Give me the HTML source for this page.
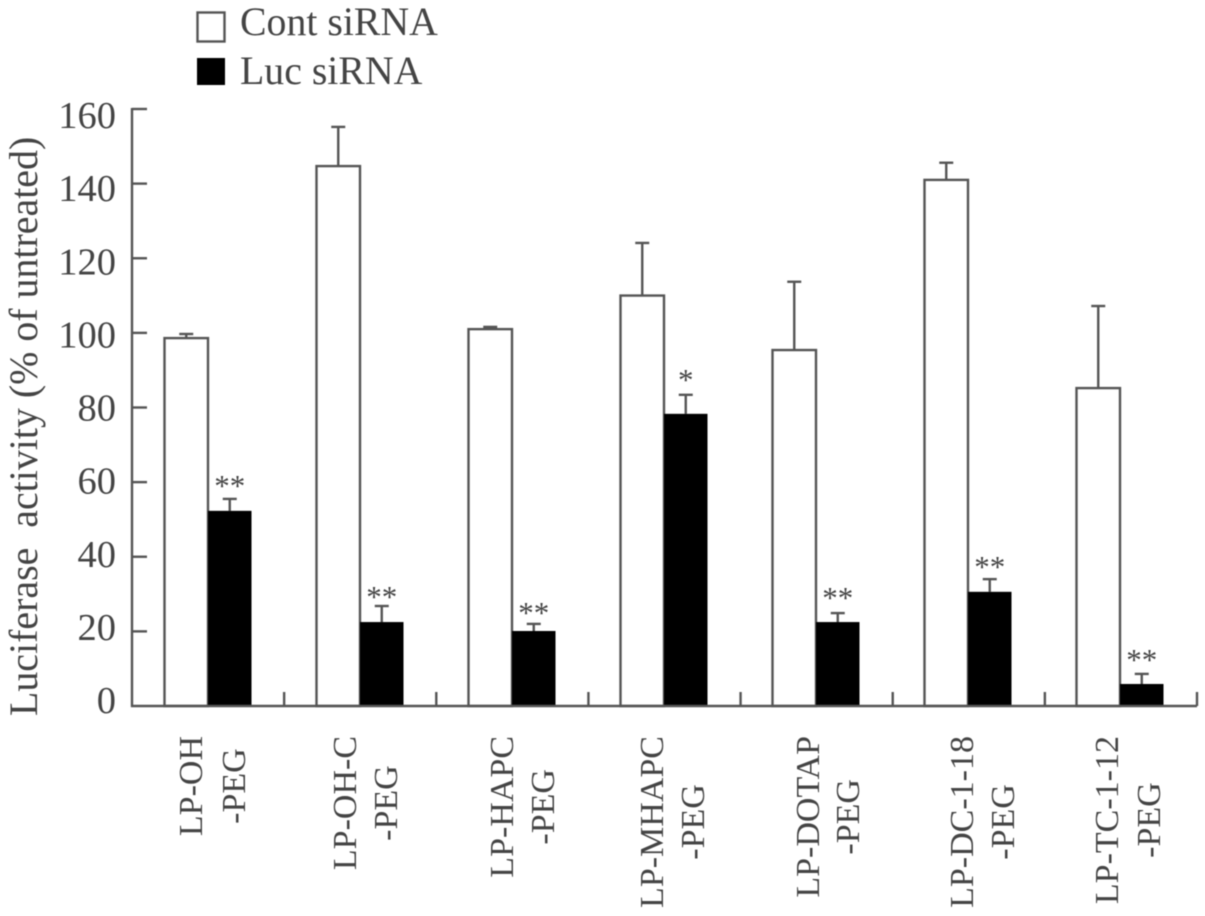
<!DOCTYPE html>
<html lang="en">
<head>
<meta charset="utf-8">
<title>Luciferase activity chart</title>
<style>
html,body{margin:0;padding:0;background:#fff;}
svg{display:block;filter:blur(0.5px);}
text{font-family:"Liberation Serif",serif;fill:#444;}
</style>
</head>
<body>
<svg id="chart" width="1205" height="916" viewBox="0 0 1205 916" xmlns="http://www.w3.org/2000/svg">
  <rect x="0" y="0" width="1205" height="916" fill="#fff"/>
  <g>
    <g>
      <rect x="197.500" y="12.500" width="27" height="29" fill="#fff" stroke="#555" stroke-width="2.400"/>
      <text x="240" y="35" font-size="39.800">Cont siRNA</text>
    </g>
    <g>
      <rect x="197" y="58" width="28" height="27" fill="#000"/>
      <text x="240" y="84" font-size="39.800">Luc siRNA</text>
    </g>
  </g>
  <text transform="translate(37,716) rotate(-90)" font-size="39.900" xml:space="preserve">Luciferase  activity (% of untreated)</text>
  <g id="marks"></g>
  <g id="axes"></g>
  <g id="labels"></g>
</svg>
<script>
const categories = [
  ["LP-OH", "-PEG"],
  ["LP-OH-C", "-PEG"],
  ["LP-HAPC", "-PEG"],
  ["LP-MHAPC", "-PEG"],
  ["LP-DOTAP", "-PEG"],
  ["LP-DC-1-18", "-PEG"],
  ["LP-TC-1-12", "-PEG"]
];
const contValues = [98.6, 144.7, 101, 110, 95.4, 141, 85.2];
const contErrors = [1.1, 10.5, 0.6, 14.1, 18.3, 4.6, 22];
const lucValues = [52.3, 22.5, 20.1, 78.3, 22.5, 30.6, 5.9];
const lucErrors = [3.2, 4.3, 1.9, 5.1, 2.4, 3.4, 2.7];
const significance = ["**", "**", "**", "*", "**", "**", "**"];
const yTicks = [0, 20, 40, 60, 80, 100, 120, 140, 160];

const svgNS = "http://www.w3.org/2000/svg";
const yMax = 160;
const plotLeft = 132, plotRight = 1197, plotTop = 109, plotBottom = 706;
const barWidth = 43.5;
const axisColor = "#555";
const strokeW = 2.4;

function yScale(v) {
  return plotBottom - (v / yMax) * (plotBottom - plotTop);
}
function groupEdge(i) {
  return plotLeft + i * (plotRight - plotLeft) / categories.length;
}
function groupCenter(i) {
  return 208 + i * 152;
}
function yLabelBaseline(v) {
  return 713 - (v / yMax) * 585;
}
function make(tag, attrs, parent) {
  const el = document.createElementNS(svgNS, tag);
  for (const k in attrs) el.setAttribute(k, attrs[k]);
  parent.appendChild(el);
  return el;
}
function starNudge(i) {
  return [-2, 2, 0, -4, -4, -1, -3][i];
}
function firstLineNudge(i) {
  return [0, 2, 7, 5, 9, 11, 4][i];
}
function secondLineNudge(i) {
  return [0, 0, 5, 3, 6, 9, 3][i];
}

const marks = document.getElementById("marks");
const axes = document.getElementById("axes");
const labels = document.getElementById("labels");

function drawBar(x, value, error, fill, name) {
  const top = yScale(value);
  const errTop = yScale(value + error);
  const cx = x + barWidth / 2;
  const stem = make("line", {x1: cx, x2: cx, y1: top, y2: errTop, stroke: axisColor, "stroke-width": strokeW}, marks);
  
  
  const cap = make("line", {x1: cx - 7, x2: cx + 7, y1: errTop, y2: errTop, stroke: axisColor, "stroke-width": strokeW}, marks);
  
  
  const bar = make("rect", {x: x, y: top, width: barWidth, height: plotBottom - top, fill: fill, stroke: fill === "#000" ? "#000" : axisColor, "stroke-width": fill === "#000" ? 0 : strokeW}, marks);
  
  
}

categories.forEach(function (cat, i) {
  const c = groupCenter(i);
  drawBar(c - barWidth, contValues[i], contErrors[i], "#fff", "bar-cont-sirna");
  drawBar(c, lucValues[i], lucErrors[i], "#000", "bar-luc-sirna");
  const star = make("text", {x: c + barWidth / 2, y: yScale(lucValues[i] + lucErrors[i]) - 1 + starNudge(i), "font-size": 31, "text-anchor": "middle"}, marks);
  
  
  star.textContent = significance[i];
});

const yLine = make("line", {x1: plotLeft, x2: plotLeft, y1: plotTop - 1, y2: plotBottom + 1, stroke: axisColor, "stroke-width": strokeW}, axes);


const xLine = make("line", {x1: plotLeft - 1, x2: plotRight, y1: plotBottom, y2: plotBottom, stroke: axisColor, "stroke-width": strokeW}, axes);



yTicks.forEach(function (v) {
  const y = yScale(v);
  if (v > 0) {
    const tick = make("line", {x1: plotLeft, x2: plotLeft + 15, y1: y, y2: y, stroke: axisColor, "stroke-width": strokeW}, axes);
    
    
  }
  const label = make("text", {x: 116, y: yLabelBaseline(v), "font-size": 38.5, "text-anchor": "end"}, axes);
  
  
  label.textContent = v;
});

for (let i = 1; i <= categories.length; i++) {
  const x = groupEdge(i);
  const tick = make("line", {x1: x, x2: x, y1: plotBottom, y2: plotBottom - 14, stroke: axisColor, "stroke-width": strokeW}, axes);
  
  
}

categories.forEach(function (cat, i) {
  const c = groupCenter(i);
  const line1 = make("text", {transform: "translate(" + (c - 6 + firstLineNudge(i)) + ",736) rotate(-90)", "font-size": 34, "text-anchor": "end"}, labels);
  
  
  line1.textContent = cat[0];
  const w = line1.getComputedTextLength();
  const line2 = make("text", {transform: "translate(" + (c + 37 + secondLineNudge(i)) + "," + (736 + w / 2) + ") rotate(-90)", "font-size": 34, "text-anchor": "middle"}, labels);
  
  
  line2.textContent = cat[1];
});
</script>
</body>
</html>
